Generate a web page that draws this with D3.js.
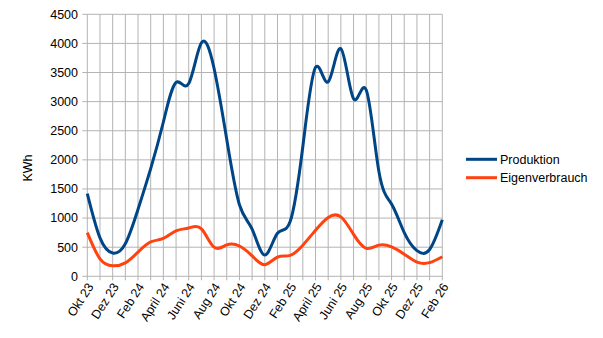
<!DOCTYPE html>
<html><head><meta charset="utf-8">
<script src="https://cdn.jsdelivr.net/npm/d3@7"></script>
<style>body{margin:0;background:#fff}svg{display:block}text{font-family:"Liberation Sans",Arial,sans-serif;fill:#000}</style>
</head><body><svg id="c" width="603" height="338"></svg>
<script>
const months = ["Okt 23","Nov 23","Dez 23","Jan 24","Feb 24","März 24","April 24","Mai 24","Juni 24","Juli 24","Aug 24","Sep 24","Okt 24","Nov 24","Dez 24","Jan 25","Feb 25","März 25","April 25","Mai 25","Juni 25","Juli 25","Aug 25","Sep 25","Okt 25","Nov 25","Dez 25","Jan 26","Feb 26"];
const labeledMonths = ["Okt 23","Dez 23","Feb 24","April 24","Juni 24","Aug 24","Okt 24","Dez 24","Feb 25","April 25","Juni 25","Aug 25","Okt 25","Dez 25","Feb 26"];
const produktion = [1420,660,400,560,1150,1850,2650,3330,3310,4010,3570,2350,1230,810,365,740,940,2230,3590,3340,3910,3050,3200,1800,1240,750,440,460,970];
const eigenverbrauch = [750,300,180,230,415,590,650,780,830,815,500,540,520,350,200,330,360,535,790,1010,1020,720,480,535,505,380,245,235,335];
const yTicks = [0,500,1000,1500,2000,2500,3000,3500,4000,4500];
const seriesNames = ["Produktion","Eigenverbrauch"];
const colors = ["#004586","#ff420e"];

const svg = d3.select("#c");
const L = 87.3, R = 442.3, T = 14.3, B = 276.3;
const x = d3.scalePoint().domain(months).range([L, R]);
const y = d3.scaleLinear().domain([0, 4500]).range([B, T]);

// grid
const g = svg.append("g");
g.selectAll("line.h").data(yTicks).join("line")
  .attr("x1", L - 5).attr("x2", R).attr("y1", d => y(d)).attr("y2", d => y(d))
  .attr("stroke", "#b3b3b3").attr("stroke-width", 1);
g.selectAll("line.v").data(months).join("line")
  .attr("x1", d => x(d)).attr("x2", d => x(d)).attr("y1", T).attr("y2", B + 4)
  .attr("stroke", "#b3b3b3").attr("stroke-width", 1);

// y axis labels
svg.append("g").selectAll("text").data(yTicks).join("text")
  .attr("x", 78).attr("y", d => y(d)).attr("dy", "0.35em")
  .attr("text-anchor", "end").attr("font-size", 12.5).text(d => d);

// x labels
svg.append("g").selectAll("text").data(labeledMonths).join("text")
  .attr("transform", d => `translate(${x(d) + 3},${B + 8}) rotate(-57)`)
  .attr("text-anchor", "end").attr("dy", "0.35em").attr("font-size", 12.5).text(d => d);

// y title
svg.append("text").attr("transform", "translate(32,168) rotate(-90)")
  .attr("text-anchor", "middle").attr("font-size", 12.5).text("KWh");

// lines
const line = d3.line().x((d, i) => x(months[i])).y(d => y(d)).curve(d3.curveNatural);
[produktion, eigenverbrauch].forEach((s, k) => {
  svg.append("path").datum(s).attr("d", line).attr("fill", "none")
    .attr("stroke", colors[k]).attr("stroke-width", 3).attr("stroke-linejoin", "round");
});

// legend
const leg = svg.append("g");
seriesNames.forEach((n, k) => {
  const ly = 159.3 + k * 18.4;
  leg.append("line").attr("x1", 466).attr("x2", 497).attr("y1", ly).attr("y2", ly)
    .attr("stroke", colors[k]).attr("stroke-width", 3);
  leg.append("text").attr("x", 500).attr("y", ly).attr("dy", "0.35em")
    .attr("font-size", 12.5).text(n);
});
</script></body></html>
